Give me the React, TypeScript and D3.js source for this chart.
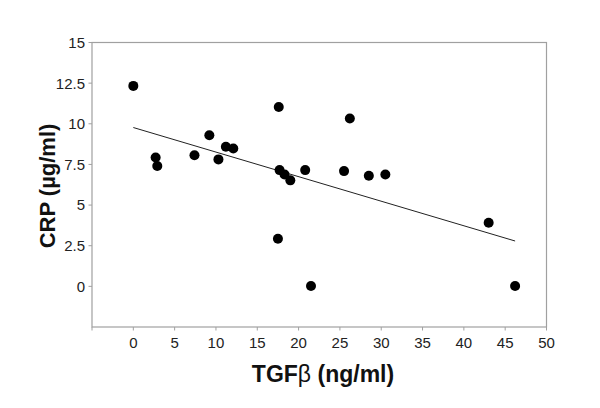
import React from "react";
import * as d3 from "d3";

const tgf: number[] = [0, 2.7, 2.9, 7.4, 9.2, 10.3, 11.2, 12.1, 17.6, 17.7, 18.3, 19.0, 20.8, 17.5, 21.5, 26.2, 25.5, 28.5, 30.5, 43.0, 46.2];
const crp: number[] = [12.33, 7.93, 7.4, 8.07, 9.3, 7.81, 8.59, 8.48, 11.03, 7.15, 6.88, 6.52, 7.15, 2.93, 0.02, 10.33, 7.09, 6.8, 6.88, 3.91, 0.02];
const trendX: number[] = [0, 46.2];
const trendY: number[] = [9.77, 2.79];
const xTicks: number[] = [0, 5, 10, 15, 20, 25, 30, 35, 40, 45, 50];
const yTicks: number[] = [0, 2.5, 5, 7.5, 10, 12.5, 15];

export default function App() {
  const W = 600, H = 408;
  const left = 92, right = 546.5, top = 42.5, bottom = 327;
  const x = d3.scaleLinear().domain([-5, 50]).range([left, right]);
  const y = d3.scaleLinear().domain([-2.5, 15]).range([bottom, top]);
  const axisColor = "#a0a0a0";
  const font = "Arial, 'Liberation Sans', sans-serif";
  const line = d3.line<number>().x((d, i) => x(trendX[i])).y((d, i) => y(trendY[i]));
  return (
    <svg width={W} height={H} style={{ position: "absolute", left: 0, top: 0, background: "#fff" }}>
      <rect x={0} y={0} width={W} height={H} fill="#fff" />
      <rect x={left} y={top} width={right - left} height={bottom - top} fill="none" stroke={axisColor} strokeWidth={1.2} />
      {yTicks.map((t) => (
        <g key={"y" + t}>
          <line x1={left - 3.5} x2={left} y1={y(t)} y2={y(t)} stroke={axisColor} strokeWidth={1} />
          <text x={left - 7} y={y(t)} dy="0.36em" textAnchor="end" fontFamily={font} fontSize={15} fill="#222">{t}</text>
        </g>
      ))}
      {[-5, ...xTicks].map((t) => (
        <line key={"xt" + t} x1={x(t)} x2={x(t)} y1={bottom} y2={bottom + 3.5} stroke={axisColor} strokeWidth={1} />
      ))}
      {xTicks.map((t) => (
        <text key={"xl" + t} x={x(t)} y={bottom + 21} textAnchor="middle" fontFamily={font} fontSize={15} fill="#222">{t}</text>
      ))}
      <path d={line(trendX) || ""} fill="none" stroke="#222" strokeWidth={1} />
      {tgf.map((v, i) => (
        <circle key={"p" + i} cx={x(v)} cy={y(crp[i])} r={5} fill="#000" />
      ))}
      <text x={323} y={382} textAnchor="middle" fontFamily={font} fontSize={23} fontWeight="bold" fill="#111">TGF<tspan fontWeight="normal">β</tspan> (ng/ml)</text>
      <text transform={`translate(55,186) rotate(-90)`} textAnchor="middle" fontFamily={font} fontSize={22} fontWeight="bold" fill="#111">CRP (µg/ml)</text>
    </svg>
  );
}
